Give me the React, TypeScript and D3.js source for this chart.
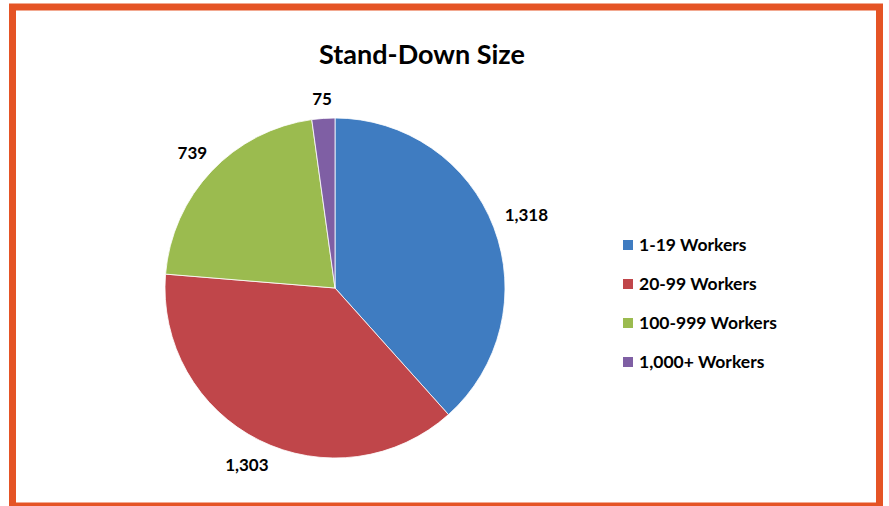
import React from "react";
import * as d3 from "d3";

const categories = ["1-19 Workers", "20-99 Workers", "100-999 Workers", "1,000+ Workers"];
const values = [1318, 1303, 739, 75];
const colors = ["#3F7CC1", "#C0464A", "#9BBB4F", "#7F5FA4"];
const title = "Stand-Down Size";

const W = 889;
const H = 506;
const FONT = "Lato, 'Open Sans', sans-serif";

export default function App() {
  const cx = 335;
  const cy = 288;
  const r = 170;
  const pie = d3.pie<number>().value((d) => d).sort(null);
  const arcs = pie(values);
  const arc = d3.arc<d3.PieArcDatum<number>>().innerRadius(0).outerRadius(r);
  const fmt = d3.format(",");
  const gap = 11;
  const lh = 16;

  const legendY = d3.scalePoint<string>().domain(categories).range([245, 362]);

  return (
    <svg width={W} height={H} style={{ position: "absolute", left: 0, top: 0, display: "block" }}>
      <rect x={0} y={0} width={W} height={H} fill="#ffffff" />
      <rect x={12.5} y={7} width={867} height={499} fill="#ffffff" stroke="#E55425" strokeWidth={7} />
      <text x={422} y={64} textAnchor="middle" fontFamily={FONT} fontWeight={700} fontSize={27} fill="#000">
        {title}
      </text>
      <g transform={`translate(${cx},${cy})`}>
        {arcs.map((a, i) => (
          <path key={i} d={arc(a) || ""} fill={colors[i]} stroke="#ffffff" strokeWidth={0.8} />
        ))}
        {arcs.map((a, i) => {
          const mid = (a.startAngle + a.endAngle) / 2;
          const ux = Math.sin(mid);
          const uy = -Math.cos(mid);
          const label = fmt(values[i]);
          const w = label.length * 9;
          const ext = (w / 2) * Math.abs(ux) + (lh / 2) * Math.abs(uy);
          const d = r + gap + ext;
          return (
            <text
              key={i}
              x={ux * d}
              y={uy * d}
              dy="0.35em"
              textAnchor="middle"
              fontFamily={FONT}
              fontWeight={700}
              fontSize={17}
              fill="#000"
            >
              {label}
            </text>
          );
        })}
      </g>
      {categories.map((c, i) => {
        const y = legendY(c) as number;
        return (
          <g key={c}>
            <rect x={623} y={y - 5} width={10} height={10} fill={colors[i]} />
            <text x={639} y={y} dy="0.35em" fontFamily={FONT} fontWeight={700} fontSize={17.5} fill="#000">
              {c}
            </text>
          </g>
        );
      })}
    </svg>
  );
}
